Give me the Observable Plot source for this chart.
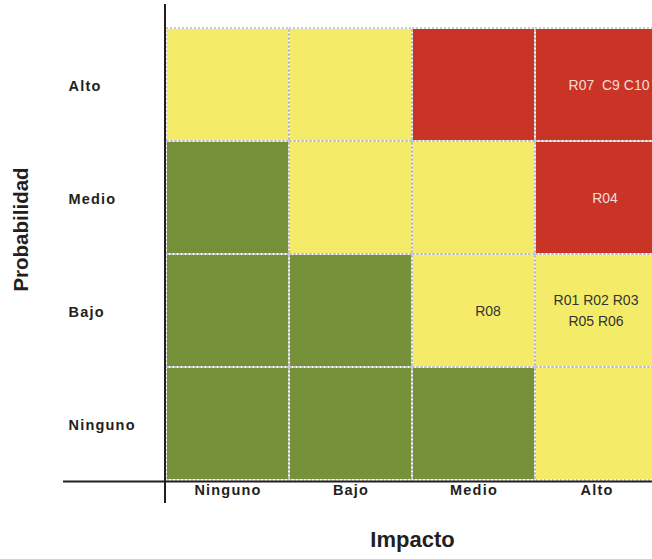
<!DOCTYPE html>
<html>
<head>
<meta charset="utf-8">
<script src="https://cdn.jsdelivr.net/npm/d3@7"></script>
<script src="https://cdn.jsdelivr.net/npm/@observablehq/plot@0.6"></script>
<style>
  html, body { margin: 0; padding: 0; background: #fff; }
  #chart svg { display: block; }
</style>
</head>
<body>
<div id="chart"></div>
<script>
// Risk matrix: impact (columns) against probability (rows)
const impacts = ["Ninguno", "Bajo", "Medio", "Alto"];
const probabilities = ["Alto", "Medio", "Bajo", "Ninguno"]; // top to bottom

// Risk level of each cell, one row per probability (same order as above)
const levelRows = [
  ["medio", "medio", "alto",  "alto"],   // Alto
  ["bajo",  "medio", "medio", "alto"],   // Medio
  ["bajo",  "bajo",  "medio", "medio"],  // Bajo
  ["bajo",  "bajo",  "bajo",  "medio"]   // Ninguno
];

// Risks placed in the matrix
const riskProb   = ["Alto",        "Medio", "Bajo", "Bajo"];
const riskImpact = ["Alto",        "Alto",  "Medio", "Alto"];
const riskText   = ["R07\u00a0 C9 C10", "R04", "R08", "R01 R02 R03\nR05 R06"];

const levelColor = { bajo: "#77903a", medio: "#f4ec68", alto: "#c93427" };

// Tables built from the arrays above
const cells = probabilities.flatMap((p, i) =>
  impacts.map((im, j) => ({ prob: p, impact: im, level: levelRows[i][j] })));
const levelOf = (p, im) => levelRows[probabilities.indexOf(p)][impacts.indexOf(im)];
const risks = riskText.map((t, i) => ({
  prob: riskProb[i], impact: riskImpact[i], text: t, level: levelOf(riskProb[i], riskImpact[i])
}));

// small horizontal nudges for individual labels
const nudge = { "R04": 8, "R08": 14, "R01 R02 R03\nR05 R06": -1 };
nudge[riskText[0]] = 12;

const W = 652, H = 559;
const font = "'Liberation Sans', Arial, Helvetica, sans-serif";

const labelMarks = risks.map(d => Plot.text([d], {
  x: "impact", y: "prob", text: "text",
  fill: d.level === "alto" ? "#f4dcd7" : "#333333",
  fontSize: 14, lineHeight: 1.5,
  dx: nudge[d.text] ?? 0, dy: -2
}));

const plot = Plot.plot({
  width: W,
  height: H,
  marginLeft: 165,
  marginRight: 0,
  marginTop: 27,
  marginBottom: 78,
  style: { fontFamily: font, background: "#fff", overflow: "visible" },
  x: { type: "band", domain: impacts, range: [165, 658], padding: 0, axis: null },
  y: { type: "band", domain: probabilities, range: [27, 481], padding: 0, axis: null },
  marks: [
    Plot.cell(cells, { x: "impact", y: "prob", fill: d => levelColor[d.level], stroke: "#ffffff", strokeWidth: 2 }),
    Plot.cell(cells, { x: "impact", y: "prob", fill: "none", stroke: "#b9b9b9", strokeWidth: 1.6, strokeDasharray: "2,2" }),
    ...labelMarks,
    // tick labels
    Plot.text(impacts, {
      x: d => d, frameAnchor: "bottom", lineAnchor: "top", dy: 3,
      text: d => d, fontSize: 14.5, fontWeight: "bold", fill: "#231f20",
      ariaDescription: "tick-labels"
    }),
    Plot.text(probabilities, {
      y: d => d, frameAnchor: "left", textAnchor: "start", dx: -97, dy: 1,
      text: d => d, fontSize: 14.5, fontWeight: "bold", fill: "#231f20",
      ariaDescription: "tick-labels"
    }),
    // axis titles
    Plot.text(["Impacto"], {
      frameAnchor: "bottom", lineAnchor: "bottom", textAnchor: "middle", dx: 3.5, dy: 65,
      text: d => d, fontSize: 22, fontWeight: "bold", fill: "#231f20"
    }),
    Plot.text(["Probabilidad"], {
      frameAnchor: "left", lineAnchor: "bottom", textAnchor: "middle", rotate: -90, dx: -138, dy: -25,
      text: d => d, fontSize: 20.5, fontWeight: "bold", fill: "#231f20"
    })
  ]
});

const svg = d3.select(plot);
svg.selectAll('[aria-description="tick-labels"] text').style("letter-spacing", "1.2px");

// axis lines crossing at the lower-left corner of the matrix
const xr = plot.scale("x").range, yr = plot.scale("y").range;
const x0 = Math.min(...xr), yTop = Math.min(...yr), yBot = Math.max(...yr);
const axes = svg.append("g").attr("stroke", "#231f20").attr("stroke-width", 2);
axes.append("line").attr("x1", x0).attr("x2", x0).attr("y1", yTop - 23).attr("y2", yBot + 22);
axes.append("line").attr("x1", x0 - 102).attr("x2", W).attr("y1", yBot + 0.5).attr("y2", yBot + 0.5);

document.getElementById("chart").appendChild(plot);
</script>
</body>
</html>
